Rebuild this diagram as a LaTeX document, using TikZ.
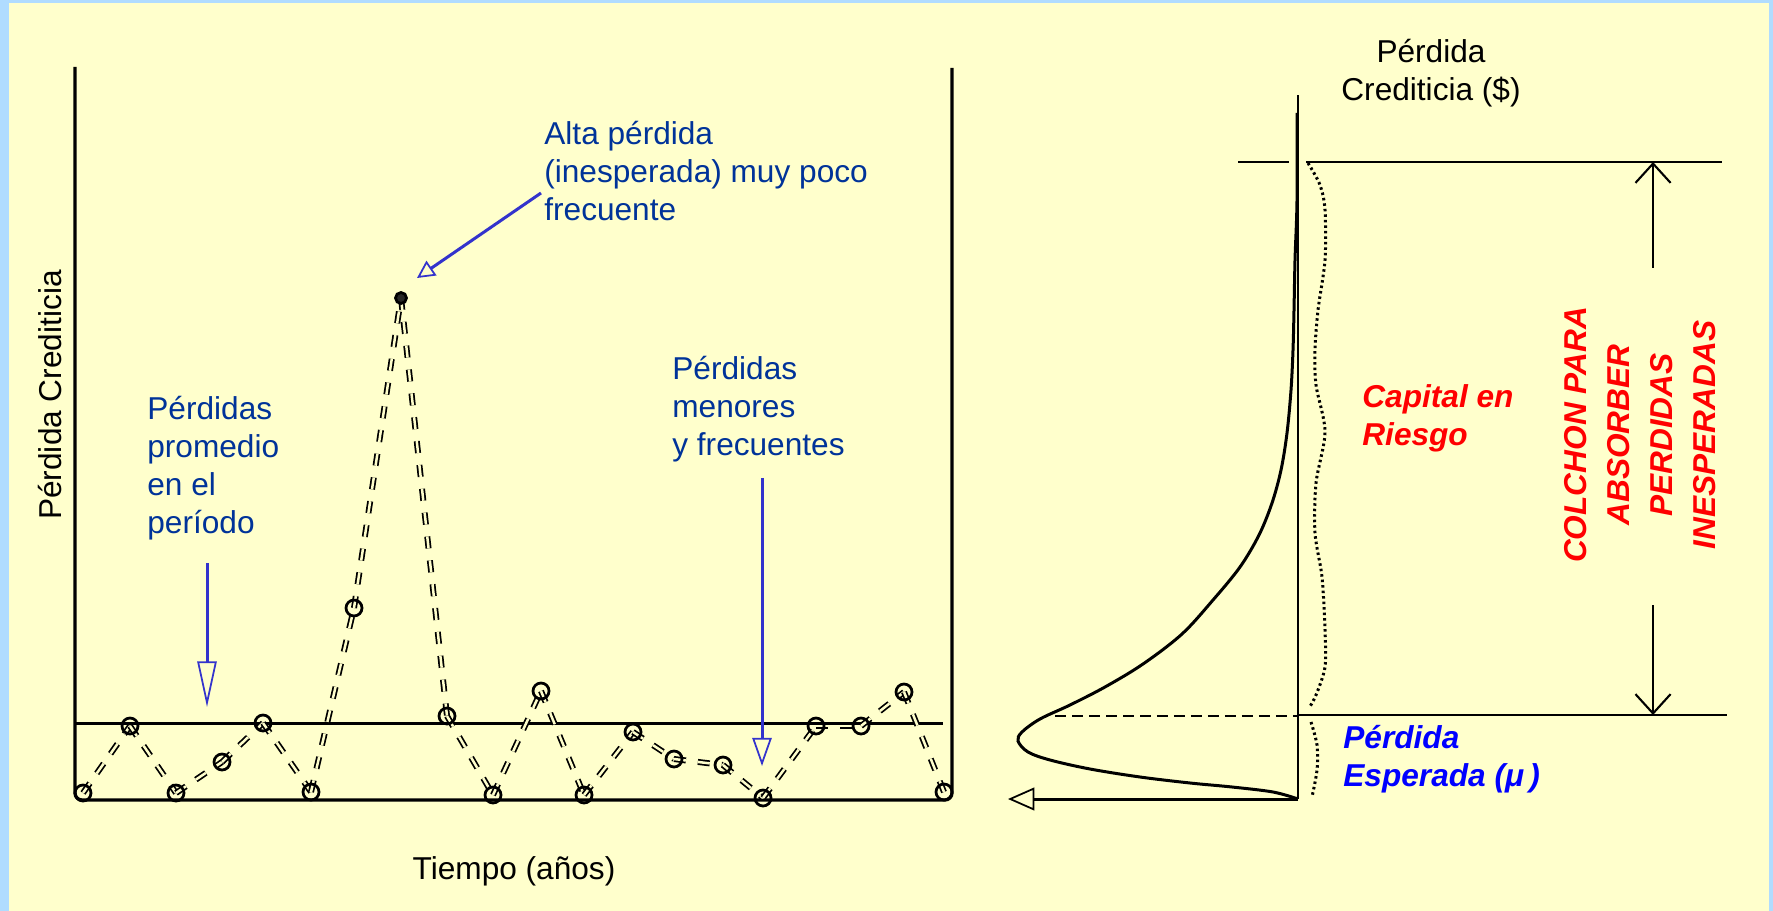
\documentclass[tikz,border=0pt]{standalone}
\usepackage{fontspec}
\setmainfont{Liberation Sans}
\usetikzlibrary{arrows.meta}
\definecolor{bgyellow}{HTML}{FFFFCC}
\definecolor{bgblue}{HTML}{B0DCFF}
\definecolor{navytext}{HTML}{003399}
\definecolor{arrowblue}{HTML}{3333CC}
\definecolor{purered}{HTML}{FF0000}
\definecolor{pureblue}{HTML}{0000FF}

\begin{document}
\begin{tikzpicture}[
        x = 0.02cm, y = -0.02cm,
        every node/.style = {font = \fontsize{18}{21.6}\selectfont, inner sep = 0pt},
        note/.style = {text = navytext, align = left, anchor = north west},
        rednote/.style = {text = purered, font = \fontsize{18}{21.6}\selectfont\bfseries\itshape},
        pt/.style = {circle, draw, line width = 0.055cm, minimum size = 0.32cm},
        link/.style = {line width = 0.035cm, double = bgyellow, double distance = 0.05cm, dash pattern = on 0.24cm off 0.24cm},
        axis/.style = {line width = 0.065cm},
        pointer/.style = {draw = arrowblue, line width = 0.06cm},
        dimarrow/.style = {line width = 0.045cm, -{Straight Barb[length = 11pt, width = 20pt, line width = 1.2pt]}}
    ]
        \useasboundingbox (0,0) rectangle (1773,911);
        \fill[bgblue] (0,0) rectangle (1773,911);
        \fill[bgyellow] (9,3) rectangle (1769,911);

        % left chart
        \draw[axis, rounded corners = 0.14cm] (75,67) -- (75,800) -- (952,800) -- (952,68);
        \draw[line width = 0.06cm] (75,723) -- (943,723);
        \foreach \px/\py [count = \i] in {83/793, 130/726, 176/793, 222/762, 263/723, 311/792, 354/608, 401/298,
                447/716, 493/795, 541/691, 584/795, 633/732, 674/759, 723/765, 763/798, 816/726, 861/726, 904/692, 944/792}
            \coordinate (c\i) at (\px,\py);
        \foreach \i [evaluate = \i as \j using int(\i+1)] in {1,...,19}
            \draw[link] (c\i) -- (c\j);
        \foreach \i in {1,...,7,9,10,...,20}
            \node[pt] (p\i) at (c\i) {};
        \node[pt, minimum size = 0.22cm, fill = black!85] (p8) at (c8) {};

        \node[rotate = 90] (ylabel) at (50,395) {Pérdida Crediticia};
        \node (xlabel) at (514,871) {Tiempo (años)};

        \node[note] (avgnote) at (147,396) {Pérdidas\\promedio\\en el\\período};
        \node[note] (highnote) at (544,121) {Alta pérdida\\(inesperada) muy poco\\frecuente};
        \node[note] (freqnote) at (672,356) {Pérdidas\\menores\\y frecuentes};

        \coordinate (avgtail) at (207,563);
        \coordinate (avgtip) at (207,707);
        \coordinate (hightail) at (541,193);
        \coordinate (hightip) at (417,278);
        \coordinate (freqtail) at (762,478);
        \coordinate (freqtip) at (762,766);
        \draw[pointer, -{Triangle[open, length = 26pt, width = 11pt, line width = 1pt]}] (avgtail) -- (avgtip);
        \draw[pointer, -{Triangle[open, length = 10pt, width = 10pt, line width = 1pt]}] (hightail) -- (hightip);
        \draw[pointer, -{Triangle[open, length = 16pt, width = 11pt, line width = 1pt]}] (freqtail) -- (freqtip);

        % right chart
        \coordinate (orig) at (1298,799);
        \coordinate (ytop) at (1298,95);
        \coordinate (xtip) at (1008,799);
        \draw[line width = 0.04cm] (orig) -- (ytop);
        \draw[line width = 0.06cm, -{Triangle[open, length = 15pt, width = 13pt, line width = 1pt]}] (orig) -- (xtip);
        \draw[line width = 0.045cm] (1238,162) -- (1289,162);
        \draw[line width = 0.045cm] (1306,162) -- (1722,162);
        \draw[line width = 0.05cm] (1298,715) -- (1727,715);
        \draw[line width = 0.05cm, dash pattern = on 0.22cm off 0.12cm] (1055,716) -- (1298,716);
        \draw[line width = 0.06cm] plot[smooth, tension = 0.55] coordinates {(1297,113) (1297,200) (1295,260) (1294,310)
            (1293,350) (1291,390) (1287,433) (1281,470) (1272,503) (1259,535) (1240,567) (1213,600) (1182,634)
            (1143,664) (1105,687) (1070,705) (1040,719) (1022,732) (1018,741) (1028,752) (1050,760) (1090,769)
            (1140,777) (1190,783) (1232,787) (1273,792) (1298,799)};
        \draw[line width = 0.06cm, dash pattern = on 0.05cm off 0.06cm] plot[smooth] coordinates {(1308,163) (1320,185)
            (1325,210) (1325,260) (1318,310) (1315,350) (1316,385) (1325,432) (1316,483) (1315,533) (1322,577)
            (1325,630) (1325,667) (1316,695) (1309,708)};
        \draw[line width = 0.06cm, dash pattern = on 0.05cm off 0.06cm] plot[smooth] coordinates {(1311,722) (1317,745)
            (1317,770) (1312,797)};

        \coordinate (captop) at (1653,162);
        \coordinate (capbot) at (1653,715);
        \coordinate (upstart) at (1653,268);
        \coordinate (downstart) at (1653,605);
        \draw[dimarrow] (upstart) -- (captop);
        \draw[dimarrow] (downstart) -- (capbot);

        \node[align = center, anchor = north] (rylabel) at (1431,39) {Pérdida\\Crediticia (\$)};
        \node[rednote, align = left, anchor = north west] (capnote) at (1362,384) {Capital en\\Riesgo};
        \node[text = pureblue, font = \fontsize{18}{21.6}\selectfont\bfseries\itshape, align = left, anchor = north west]
            (elnote) at (1343,725) {Pérdida\\Esperada (μ\,)};
        \node[rednote, rotate = 90, align = center, font = \fontsize{18}{24.4}\selectfont\bfseries\itshape]
            (cushion) at (1640,435) {COLCHON PARA\\ABSORBER\\PERDIDAS\\INESPERADAS};
    \end{tikzpicture}
\end{document}
